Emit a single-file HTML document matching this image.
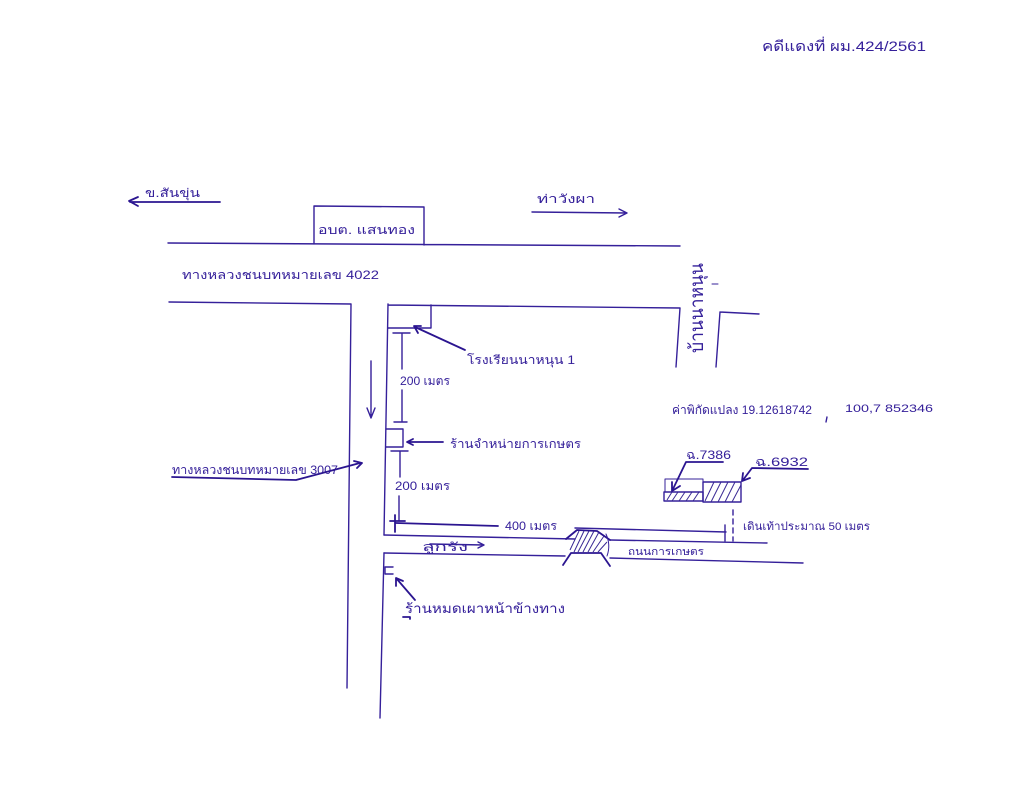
<!DOCTYPE html>
<html lang="th">
<head>
<meta charset="utf-8">
<title>แผนที่สังเขป</title>
<style>
html,body{margin:0;padding:0;background:#fff;width:1028px;height:800px;overflow:hidden}
svg{display:block}
text{font-family:"Liberation Sans","Noto Sans CJK SC","Noto Sans CJK JP",sans-serif;fill:#35209a;font-size:12px}
.l{fill:none;stroke:#35209a;stroke-width:1.4;stroke-linecap:round;stroke-linejoin:round}
.t{stroke-width:1}
.h{fill:none;stroke:#3a2a95;stroke-width:1}
.d{fill:none;stroke:#2b1590;stroke-width:1.8;stroke-linecap:round;stroke-linejoin:round}
</style>
</head>
<body>
<svg width="1028" height="800" viewBox="0 0 1028 800" xmlns="http://www.w3.org/2000/svg">
<rect width="1028" height="800" fill="#fff"/>

<text x="762" y="51" textLength="164" lengthAdjust="spacingAndGlyphs" style="font-size:14px">คดีแดงที่ ผม.424/2561</text>

<path class="d" d="M220 202H130M138 197L129 201L138 206"/>
<text x="145" y="197" textLength="55" lengthAdjust="spacingAndGlyphs">ข.สันขุ่น</text>
<path class="l" d="M168 243L680 246M314 244V206L424 207V245"/>
<text x="318" y="234" textLength="97" lengthAdjust="spacingAndGlyphs">อบต. แสนทอง</text>
<text x="537" y="203" textLength="58" lengthAdjust="spacingAndGlyphs">ท่าวังผา</text>
<path class="l" d="M532 212L627 213M619 209L627 213L619 217"/>
<text x="182" y="279" textLength="197" lengthAdjust="spacingAndGlyphs">ทางหลวงชนบทหมายเลข 4022</text>

<path class="l" d="M169 302L351 304L347 688"/>
<path class="l" d="M388 304L384 535M388 305L680 308L676 367M720 312L716 367M720 312L759 314"/>
<path class="l" d="M384 553L380 718"/>
<text transform="translate(703 353) rotate(-90)" x="0" y="0" textLength="90" lengthAdjust="spacingAndGlyphs" style="font-size:19px">บ้านนาหนุน</text>
<path class="l t" d="M712 284H718"/>

<path class="l" d="M388 328H431V305"/>
<path class="d" d="M465 350L415 327M421 326L414 326L418 333"/>
<text x="467" y="364" textLength="108" lengthAdjust="spacingAndGlyphs">โรงเรียนนาหนุน 1</text>

<path class="l" d="M393 333H410M402 333V369M402 390V421M394 422H407"/>
<text x="400" y="385" textLength="50" lengthAdjust="spacingAndGlyphs">200 เมตร</text>
<path class="l" d="M371 361V417M367 408L371 418L375 408"/>

<path class="l" d="M386 429H403V447H386"/>
<path class="d" d="M443 442H408M413 439L407 442L413 445"/>
<text x="450" y="448" textLength="131" lengthAdjust="spacingAndGlyphs">ร้านจำหน่ายการเกษตร</text>
<path class="l" d="M391 451H408M400 451V477M399 496V521"/>
<text x="395" y="490" textLength="55" lengthAdjust="spacingAndGlyphs">200 เมตร</text>
<path class="d" d="M390 521H405M395 515V532M396 523L498 526"/>
<text x="505" y="530" textLength="52" lengthAdjust="spacingAndGlyphs">400 เมตร</text>

<text x="172" y="474" textLength="166" lengthAdjust="spacingAndGlyphs">ทางหลวงชนบทหมายเลข 3007</text>
<path class="d" d="M172 477L296 480L360 463M354 461L362 463L357 468"/>

<path class="l" d="M384 535L575 539M610 540L767 543"/>
<path class="l" d="M384 553L565 556M610 558L803 563"/>
<text x="422" y="551" textLength="46" lengthAdjust="spacingAndGlyphs">ลูกรัง</text>
<path class="l" d="M430 544L484 545M478 542L484 545L478 548"/>

<path class="d" d="M566 539L577 530L597 531L610 540M563 565L571 553L601 553L610 566"/>
<path class="h" d="M570 550L579 531M574 552L584 531M578 552L589 531M583 552L594 531M588 552L599 532M593 552L604 536M598 552L607 542"/>
<path class="l t" d="M606 534Q611 545 607 556"/>
<text x="628" y="555" textLength="76" lengthAdjust="spacingAndGlyphs" style="font-size:10px">ถนนการเกษตร</text>

<path class="l" d="M575 528L726 532M725 525V541"/>
<path class="l" d="M733 510V541" stroke-dasharray="5 4"/>
<text x="743" y="530" textLength="127" lengthAdjust="spacingAndGlyphs" style="font-size:11px">เดินเท้าประมาณ 50 เมตร</text>

<path class="l t" d="M665 492V479H703V492"/>
<path class="l" d="M664 492H703V501H664Z"/>
<path class="h" d="M667 500L672 492M672 501L678 492M679 501L685 492M686 501L692 492M693 501L699 492"/>
<path class="l" d="M703 482H741V502H703Z"/>
<path class="h" d="M705 501L714 482M711 502L721 482M718 502L728 482M725 502L735 482M732 502L741 485"/>
<text x="686" y="459" textLength="45" lengthAdjust="spacingAndGlyphs">ฉ.7386</text>
<path class="d" d="M723 462H686L673 489M672 482L672 491L680 486"/>
<text x="755" y="466" textLength="53" lengthAdjust="spacingAndGlyphs">ฉ.6932</text>
<path class="d" d="M808 469L752 468L743 480M743 473L742 481L750 478"/>

<text x="672" y="414" textLength="140" lengthAdjust="spacingAndGlyphs">ค่าพิกัดแปลง 19.12618742</text>
<path class="l" d="M827 417L826 422"/>
<text x="845" y="412" textLength="88" lengthAdjust="spacingAndGlyphs" style="font-size:11px">100,7 852346</text>

<path class="l" d="M393 567H385V574H393"/>
<path class="d" d="M415 600L396 578M396 586L396 578L403 581"/>
<text x="405" y="613" textLength="160" lengthAdjust="spacingAndGlyphs" style="font-size:13px">ร้านหมดเผาหน้าข้างทาง</text>
<path class="d" d="M403 617H410V619"/>
</svg>
</body>
</html>
